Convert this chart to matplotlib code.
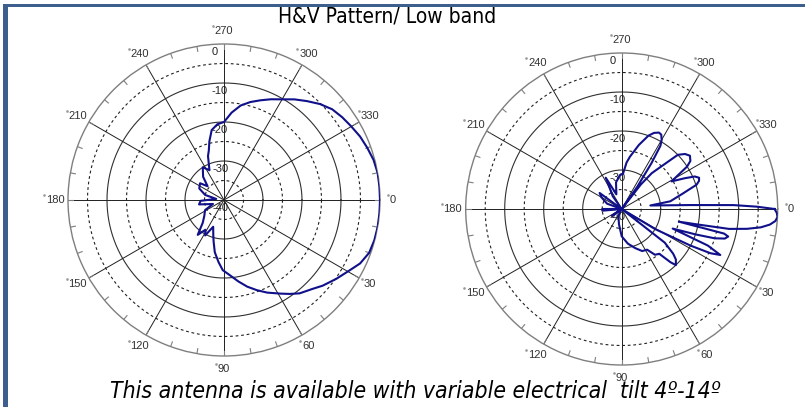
import matplotlib
matplotlib.use('Agg')
import matplotlib.pyplot as plt
import matplotlib.transforms as mtransforms
from matplotlib.patches import Rectangle
import numpy as np

# --- Datos del diagrama (angulo en grados, nivel en dB) ---
# Patron horizontal (izquierda)
h_angles = [0, 5, 10, 15, 20, 25, 29, 35, 41, 45, 51, 55, 59, 65, 70, 75, 80,
            85, 91, 95, 100, 104, 107, 112, 118, 122, 127, 133, 141, 152, 160,
            170, 178, 188, 195, 205, 215, 220, 228, 237, 244, 250, 253, 256, 260,
            265, 270, 275, 280, 285, 290, 295, 300, 305, 310, 315, 320, 325, 330,
            335, 340, 345, 350, 355]
h_levels = [0, 0, 0, -0.1, -0.4, -1.5, -3, -4.8, -6.5, -7.8, -9.2, -10.6, -12,
            -13.8, -15.4, -17, -18.8, -20.5, -22, -24, -26.4, -29, -30.6, -32.6,
            -29.7, -31, -28.8, -32, -33.5, -34.5, -37, -33.5, -34, -38, -35, -33,
            -32.5, -34.5, -32, -30, -31.5, -28, -26.7, -24.5, -21.8, -20.5, -20,
            -17.5, -15.4, -14, -12.8, -11.5, -10.2, -8.5, -6.9, -5.2, -3.8, -3,
            -2.3, -1.5, -0.9, -0.3, 0, 0]

# Patron vertical (derecha)
v_angles = [0, 1.5, 3, 4.5, 6, 7.5, 9, 10.5, 11.5, 12.5, 13.5, 14.5, 16, 17.5,
            19, 21, 23, 25, 26.5, 28, 31, 34, 38, 41, 43, 46, 47.5, 50, 54, 58,
            64, 71, 80, 90, 100, 115, 130, 145, 160, 175, 180, 185, 200, 210,
            216, 222, 235, 243, 250, 258, 267, 272, 276, 279, 285, 290, 293, 296,
            298, 300, 301.5, 303, 305, 306.5, 308, 310, 313, 316, 319, 322, 325,
            327, 331, 334, 336, 338, 340, 342, 346, 351, 353, 356.7, 358, 359]
v_levels = [-0.8, -0.2, 0, -0.5, -1.8, -4, -7.5, -12, -20, -25, -13, -11.8,
            -12.5, -15, -20, -26, -16, -12.1, -14.6, -20, -30, -40, -26, -22.5,
            -21, -20, -21.5, -25, -25.5, -27.7, -28, -29.4, -31, -33, -36, -38,
            -40, -37, -40, -35, -35, -40, -36, -34, -33, -40, -36, -31, -36, -33,
            -31.3, -31, -28, -26.4, -23, -20, -18.8, -18.2, -18.4, -19.5, -21,
            -26, -33, -40, -32, -28, -25, -20, -18.5, -17.8, -18.5, -20, -25.4,
            -22, -19.5, -18.6, -18.9, -19.8, -24, -27.4, -32.6, -22.4, -11.3,
            -5.4]

rings = [-35, -30, -25, -20, -15, -10, -5]
spokes = list(range(0, 360, 30))
minor_ticks = list(range(0, 360, 10))
r_labels = [0, -10, -20, -30, -40]

title = "H&V Pattern/ Low band"
caption = "This antenna is available with variable electrical  tilt 4º-14º"

W, H = 805, 407
fig = plt.figure(figsize=(W / 100, H / 100), dpi=100)
fig.patch.set_facecolor('white')


def panel(rect, angles, levels):
    ax = fig.add_axes(rect, projection='polar')
    ax.set_theta_zero_location('E')
    ax.set_theta_direction(-1)
    ax.set_ylim(-40, 0)
    ax.set_xticks([])
    ax.set_yticks([])
    ax.grid(False)
    ax.spines['polar'].set_color('#7f7f7f')
    ax.spines['polar'].set_linewidth(1.0)

    # circulos
    full = np.linspace(0, 2 * np.pi, 721)
    for lev in rings:
        if lev % 10 == 0:
            ax.plot(full, np.full_like(full, lev), color='#303030', lw=0.8)
        else:
            ax.plot(full, np.full_like(full, lev), color='#202020', lw=0.8,
                    ls=(0, (2.5, 2.5)))
    # radios
    for a in spokes:
        t = np.deg2rad(a)
        ax.plot([t, t], [-40, 0], color='#202020', lw=0.7)
    # marcas cada 10 grados
    for a in minor_ticks:
        t = np.deg2rad(a)
        ax.plot([t, t], [-1.3, 0], color='#7f7f7f', lw=0.8)

    # etiquetas de angulo
    for a in spokes:
        t = np.deg2rad(a)
        txt = str(a)
        ax.text(t, 3.3, txt, ha='center', va='center', fontsize=8,
                family='Liberation Sans', color='#333333')
        half = 3 * len(txt)
        tr = mtransforms.offset_copy(ax.transData, fig=fig, x=-half - 2, y=5,
                                     units='dots')
        ax.plot([t], [3.3], marker='s', ms=0.8, color='#999999',
                transform=tr, clip_on=False)

    # etiquetas radiales
    for lev in r_labels:
        ax.annotate(str(lev), xy=(1.5 * np.pi, lev), xytext=(-12, -8),
                    textcoords='offset pixels', ha='left', va='center',
                    fontsize=8, family='Liberation Sans', color='#222222')

    # diagrama
    th = np.deg2rad(angles + [angles[0]])
    r = np.clip(levels + [levels[0]], -40, 0)
    ax.plot(th, r, color='#10108a', lw=1.5, zorder=5)
    return ax


panel([68 / W, (H - 356) / H, 312 / W, 312 / H], h_angles, h_levels)
panel([465.7 / W, (H - 365) / H, 312 / W, 312 / H], v_angles, v_levels)

# marco azul
fig.add_artist(Rectangle((3 / W, 0), 5 / W, (H - 4) / H,
                         transform=fig.transFigure, color='#3d5f8e', lw=0))
fig.add_artist(Rectangle((3 / W, (H - 7) / H), (W - 3) / W, 3 / H,
                         transform=fig.transFigure, color='#3d5f8e', lw=0))

fig.text(387.5 / W, 1 - 22 / H, title, ha='center', va='baseline',
         fontsize=15, family='DejaVu Sans', fontstretch='condensed')
fig.text(415 / W, 1 - 398 / H, caption, ha='center', va='baseline',
         fontsize=16.5, family='DejaVu Sans', style='italic',
         fontstretch='condensed')

fig.savefig('out.png', dpi=100, facecolor='white')
